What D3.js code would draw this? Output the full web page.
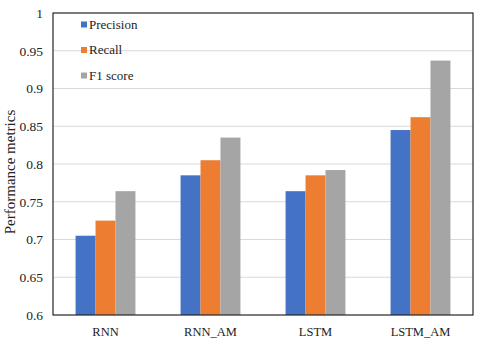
<!DOCTYPE html>
<html><head><meta charset="utf-8">
<script src="https://cdn.jsdelivr.net/npm/d3@7"></script>
<style>body{margin:0;background:#fff}svg{display:block}</style>
</head><body>
<svg id="c" width="480" height="345"></svg>
<script>
const categories = ["RNN", "RNN_AM", "LSTM", "LSTM_AM"];
const seriesNames = ["Precision", "Recall", "F1 score"];
const precision = [0.705, 0.785, 0.764, 0.845];
const recall = [0.725, 0.805, 0.785, 0.862];
const f1 = [0.764, 0.835, 0.792, 0.937];
const yTicks = [0.6, 0.65, 0.7, 0.75, 0.8, 0.85, 0.9, 0.95, 1];
const colors = ["#4472C4", "#ED7D31", "#A5A5A5"];
const series = [precision, recall, f1];

const svg = d3.select("#c");
const m = {l: 53, r: 7, t: 13, b: 30};
const W = 480, H = 345;
const font = "'Liberation Serif','Times New Roman',serif";

const x = d3.scaleBand().domain(categories).range([m.l, W - m.r]).paddingInner(0.43).paddingOuter(0.215);
const x1 = d3.scaleBand().domain(seriesNames).range([0, x.bandwidth()]);
const y = d3.scaleLinear().domain([0.6, 1]).range([H - m.b, m.t]);

// gridlines
svg.append("g").selectAll("line").data(yTicks.filter(d => d > 0.6 && d < 1)).join("line")
  .attr("x1", m.l).attr("x2", W - m.r)
  .attr("y1", d => y(d)).attr("y2", d => y(d))
  .attr("stroke", "#d9d9d9").attr("stroke-width", 1);

// bars
const g = svg.append("g");
series.forEach((vals, si) => {
  g.append("g").selectAll("rect").data(vals).join("rect")
    .attr("x", (d, i) => x(categories[i]) + x1(seriesNames[si]))
    .attr("width", x1.bandwidth())
    .attr("y", d => y(d))
    .attr("height", d => y(0.6) - y(d))
    .attr("fill", colors[si]);
});

// plot border
svg.append("rect").attr("x", m.l).attr("y", m.t).attr("width", W - m.r - m.l).attr("height", H - m.b - m.t)
  .attr("fill", "none").attr("stroke", "#262626").attr("stroke-width", 1.2);

// y axis
const yAxis = d3.axisLeft(y).tickValues(yTicks).tickFormat(d => d3.format("")(+d.toFixed(2))).tickSize(0).tickPadding(10);
const ya = svg.append("g").attr("transform", `translate(${m.l},0)`).call(yAxis);
ya.select(".domain").remove();
ya.selectAll("text").attr("font-family", font).attr("font-size", 13.5).attr("fill", "#222");

// x axis
const xAxis = d3.axisBottom(x).tickSize(0).tickPadding(12);
const xa = svg.append("g").attr("transform", `translate(0,${H - m.b})`).call(xAxis);
xa.select(".domain").remove();
xa.selectAll("text").attr("font-family", font).attr("font-size", 12.5).attr("fill", "#222");

// y title
svg.append("text").attr("transform", `translate(15,172) rotate(-90)`)
  .attr("text-anchor", "middle").attr("font-family", font).attr("font-size", 15).attr("fill", "#222")
  .text("Performance metrics");

// legend
const leg = svg.append("g");
seriesNames.forEach((n, i) => {
  const ly = 24.5 + i * 25.5;
  leg.append("rect").attr("x", 81).attr("y", ly - 3).attr("width", 6).attr("height", 6).attr("fill", colors[i]);
  leg.append("text").attr("x", 89).attr("y", ly + 4).attr("font-family", font).attr("font-size", 13).attr("fill", "#222").text(n);
});
</script>
</body></html>
